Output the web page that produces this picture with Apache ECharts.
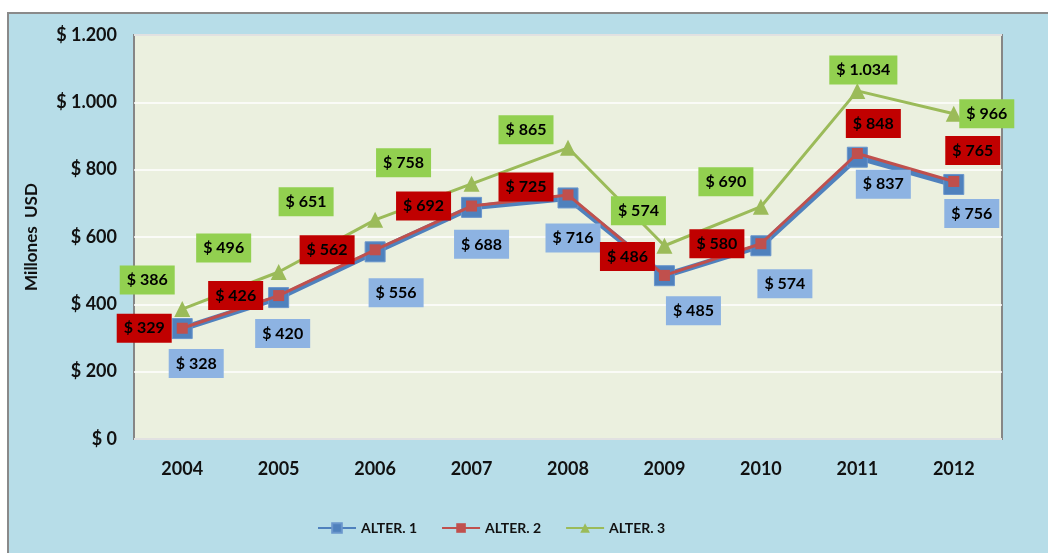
<!DOCTYPE html>
<html><head><meta charset="utf-8">
<script src="https://cdn.jsdelivr.net/npm/echarts@6/dist/echarts.min.js"></script>
<style>
html,body{margin:0;padding:0;background:#fff;width:1048px;height:553px;overflow:hidden;}
#c{position:absolute;left:7px;top:12px;width:1041px;height:541px;border-left:2px solid #8a8a8a;border-top:2px solid #8a8a8a;box-sizing:border-box;}
</style></head>
<body><div id="c"></div>
<script>
const years = ['2004','2005','2006','2007','2008','2009','2010','2011','2012'];
const alter1 = [328, 420, 556, 688, 716, 485, 574, 837, 756];
const alter2 = [329, 426, 562, 692, 725, 486, 580, 848, 765];
const alter3 = [386, 496, 651, 758, 865, 574, 690, 1034, 966];
const seriesNames = ['ALTER. 1','ALTER. 2','ALTER. 3'];

// label offsets (styling only)
const off1 = [[14,35],[4,36],[21,41],[10,37],[5,40],[29,35],[24,38],[26,27],[18,29]];
const off2 = [[-38,0],[-43,0],[-48,0],[-48,0],[-42,-8],[-37,-19],[-44,0],[16,-30],[19,-31]];
const off3 = [[-35,-29],[-55,-24],[-69,-18],[-68,-21],[-42,-18],[-26,-35],[-35,-25],[6,-21],[33,0]];

const FONT = 'Lato, "Open Sans", sans-serif';
function fmt(v){ return '$ ' + String(v).replace(/\B(?=(\d{3})+(?!\d))/g, '.'); }
function lblItems(vals, offs){ return vals.map((v,i)=>({value:v, label:{offset:offs[i]}})); }
function labelSeries(vals, offs, bg){
  return {type:'scatter', data:lblItems(vals,offs), symbolSize:1, itemStyle:{color:'rgba(0,0,0,0)', opacity:1},
    silent:true, z:10, legendHoverLink:false, tooltip:{show:false},
    label:{show:true, position:'inside', formatter:p=>fmt(p.value), backgroundColor:bg,
      padding:[6,7,5,7], color:'#000', fontFamily:FONT, fontWeight:'bold', fontSize:16, lineHeight:18}};
}
const chart = echarts.init(document.getElementById('c'));
chart.setOption({
  backgroundColor:'#b7dde8',
  animation:false,
  textStyle:{fontFamily:FONT},
  grid:{left:125,top:21,right:46,bottom:114,show:true,backgroundColor:'#ebf0df',borderColor:'#868686',borderWidth:2},
  legend:{bottom:13,left:303,itemWidth:38,itemHeight:12,itemGap:24,
    textStyle:{fontFamily:FONT,fontWeight:'bold',fontSize:14,color:'#111'},
    data:seriesNames},
  xAxis:{type:'category',data:years,boundaryGap:true,
    axisLine:{show:false},axisTick:{show:false},
    axisLabel:{margin:21,fontFamily:FONT,fontWeight:'bold',fontSize:18,color:'#111'}},
  yAxis:{type:'value',min:0,max:1200,interval:200,
    name:'Millones  USD',nameLocation:'middle',nameRotate:90,nameGap:94,
    nameTextStyle:{fontFamily:FONT,fontWeight:'bold',fontSize:17,color:'#111'},
    axisLine:{show:false},axisTick:{show:false},
    splitLine:{lineStyle:{color:'#ffffff',width:1.5}},
    axisLabel:{margin:17,formatter:fmt,fontFamily:FONT,fontWeight:'bold',fontSize:18,color:'#111'}},
  series:[
    {name:seriesNames[0],type:'line',data:alter1,symbol:'rect',symbolSize:20,
     lineStyle:{color:'#4f81bd',width:6},itemStyle:{color:'#4f81bd',borderColor:'#6a96cc',borderWidth:1},z:2},
    {name:seriesNames[1],type:'line',data:alter2,symbol:'rect',symbolSize:11,
     lineStyle:{color:'#c0504d',width:3},itemStyle:{color:'#c0504d'},z:3},
    {name:seriesNames[2],type:'line',data:alter3,symbol:'triangle',symbolSize:16,
     lineStyle:{color:'#9bbb59',width:3},itemStyle:{color:'#9bbb59'},z:4},
    labelSeries(alter1, off1, '#8db3e2'),
    labelSeries(alter2, off2, '#c00000'),
    labelSeries(alter3, off3, '#92d050')
  ]
});
</script></body></html>
